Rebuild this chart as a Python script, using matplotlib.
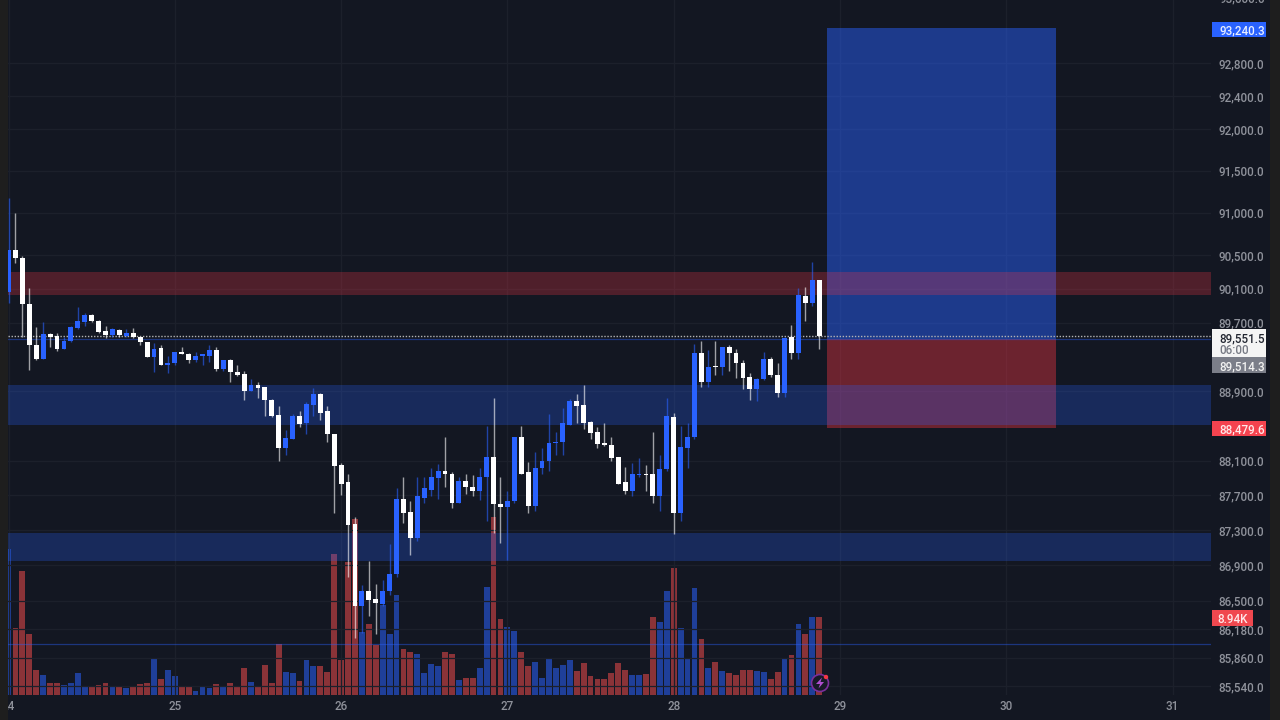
import numpy as np
import matplotlib
matplotlib.use("Agg")
import matplotlib.pyplot as plt
from matplotlib.patches import Rectangle, Circle, Polygon

# Hourly candles, x position in days of the month = 24 + index / 24
highs = [91175,91000,90490,90110,89655,89715,89585,89585,89540,89665,89890,89820,89805,89735,89665,89645,89630,89630,89645,89540,
         89480,89470,89445,89315,89365,89420,89350,89365,89340,89445,89420,89270,89280,89210,89140,89045,89010,88955,88815,88725,
         88450,88635,88670,88775,88940,88885,88725,88405,88070,87950,87450,86675,86945,86695,86740,87140,87790,87915,87630,87905,
         87915,88010,88060,88370,87965,87915,87940,87930,88010,88495,88825,87915,87755,88370,88495,88080,88195,88240,88635,88425,
         88705,88815,88870,88975,88555,88485,88530,88370,88140,88020,88070,88125,88045,88425,88160,88825,88655,88495,88530,89455,
         89490,89385,89490,89420,89445,89400,89260,89115,89060,89365,89305,89235,89540,89680,90110,90125,90420,90205]
body_tops = [90560,90560,90465,89925,89445,89575,89575,89550,89490,89655,89725,89795,89795,89725,89610,89630,89620,89585,89585,89540,
         89480,89400,89410,89235,89365,89365,89340,89315,89330,89385,89385,89260,89270,89130,89105,88975,88975,88955,88800,88625,
         88360,88610,88610,88750,88870,88870,88670,88405,88045,87850,87370,86605,86605,86515,86615,86800,87655,87655,87505,87690,
         87780,87905,87975,87975,87950,87860,87860,87800,87915,88140,88140,87600,87630,88370,88370,87965,88010,88090,88300,88310,
         88530,88785,88785,88740,88540,88425,88300,88275,88140,87850,87950,87950,87950,87940,88000,88610,88600,88255,88370,89350,
         89350,89185,89200,89420,89420,89350,89235,89070,89045,89280,89280,89095,89525,89540,90030,90020,90205,90205]
body_bots = [90065,90465,89925,89445,89280,89280,89540,89400,89400,89490,89645,89715,89725,89595,89560,89560,89560,89550,89540,89480,
         89305,89305,89210,89210,89235,89340,89270,89270,89315,89315,89165,89165,89130,89095,88905,88905,88940,88800,88610,88240,
         88240,88345,88520,88530,88740,88655,88405,88035,87835,87360,86445,86445,86505,86470,86460,86605,86800,87495,87210,87210,
         87675,87765,87895,87940,87610,87610,87800,87755,87755,87915,87600,87565,87565,87630,87950,87575,87575,88010,88090,88300,
         88310,88505,88725,88530,88415,88290,88275,88125,87835,87745,87745,87930,87930,87690,87690,88000,87495,87495,88240,88370,
         89010,89010,89185,89185,89350,89235,89060,88930,88930,89045,89095,88885,88885,89350,89350,89935,89935,89551.5]
lows = [89935,90405,89540,89150,89260,89280,89420,89375,89400,89480,89630,89665,89715,89585,89525,89540,89540,89540,89525,89445,
         89295,89130,89210,89115,89210,89330,89225,89245,89210,89245,89140,89140,89010,89080,88795,88905,88825,88610,88600,88090,
         88160,88345,88485,88405,88610,88565,88310,87495,87700,86765,86085,86140,86330,86130,86445,86560,86765,87380,87015,87175,
         87610,87690,87655,87800,87550,87610,87720,87690,87645,87405,87265,87155,86960,87610,87940,87495,87520,87950,87975,88160,
         88160,88505,88530,88460,88345,88240,88265,88090,87825,87720,87690,87915,87745,87610,87520,87985,87255,87405,88010,88345,
         88955,88955,89095,89095,89140,89060,88930,88800,88785,89035,89070,88835,88835,89280,89280,89725,89900,89400]
is_up = [1,0,0,0,0,1,0,0,1,1,1,1,0,0,0,1,0,1,0,0,
         0,1,0,1,1,0,0,1,1,1,0,1,0,0,0,1,0,0,0,0,
         1,1,0,1,1,0,0,0,0,0,0,1,0,0,1,1,1,0,0,1,
         1,1,1,0,0,1,0,0,1,1,0,0,1,1,0,0,1,1,1,1,
         1,1,0,0,0,0,0,0,0,0,1,1,0,0,1,1,0,1,1,1,
         0,1,0,1,0,0,0,0,1,1,0,0,1,0,1,0,1,0]
volumes_k = [16.95,7.74,14.36,7.0,2.83,2.21,1.28,1.35,1.16,1.35,2.52,1.04,0.89,1.16,1.28,1.04,1.04,0.70,0.85,1.24,
         1.35,4.14,1.78,2.83,2.09,1.04,0.85,0.43,0.85,0.74,1.24,0.93,1.35,0.85,3.13,1.47,1.04,3.44,1.35,5.92,
         2.63,2.52,1.59,3.95,3.33,3.33,2.63,16.29,3.95,15.4,20.4,7.2,8.13,5.8,10.37,6.97,11.53,5.34,4.95,4.68,
         2.52,3.52,3.33,4.88,4.76,1.74,1.86,1.97,3.02,12.5,20.6,8.82,7.78,7.39,4.88,3.33,3.83,1.86,4.14,3.13,
         3.41,3.95,2.71,3.64,2.09,1.78,1.78,2.52,3.64,2.83,2.28,2.28,2.4,8.94,8.44,12.07,14.63,7.7,4.14,12.31,
         6.46,3.13,3.75,2.71,2.52,2.21,2.9,2.9,2.71,2.59,1.78,2.59,4.14,4.61,8.13,6.97,8.94,8.94]

price_ticks = [92800,92400,92000,91500,91000,90500,90100,89700,88900,88100,87700,87300,86900,86500,86180,85860,85540]
day_ticks = [24,25,26,27,28,29,30,31]
zones_red = [(90030,90300)]
zones_blue = [(88510,88975),(86945,87265)]
entry_price = 89514.3
target_price = 93225
stop_price = 88479.6
last_price = 89551.5
level_line = 86010
pos_days = (28.922,30.30)

W, H = 1280, 720
BG = '#131722'
EDGE = '#1e1e1e'
BLUE = '#2962ff'
RED = '#f23645'
TXT = '#8f929b'
FS = 8.4
plt.rcParams['font.family'] = ['Roboto','DejaVu Sans']
plt.rcParams['font.weight'] = 'medium'

fig = plt.figure(figsize=(W/100,H/100),dpi=100,facecolor=BG)
def fx(p): return p/W
def fy(p): return 1-p/H
L,R,T,B = 8,1211,0,694.5
rect = [fx(L),fy(B),fx(R-L),(B-T)/H]
xlim = (24+(L-8.5)/166.3, 24+(R-8.5)/166.3)
ylim = (92800*np.exp(-(B-63)/7649), 92800*np.exp(63/7649))
vol_top = (B-T)*0.1161

axv = fig.add_axes(rect,zorder=1,facecolor=BG)
ax = fig.add_axes(rect,zorder=2,facecolor='none')
x = 24+np.arange(len(highs))/24

for a in (ax,axv):
    a.set_xlim(xlim)
    for s in a.spines.values(): s.set_visible(False)
axv.set_ylim(0,vol_top)
axv.set_yticks([])
axv.tick_params(length=0,labelbottom=False)
axv.set_xticks([])

ax.set_yscale('log')
ax.set_ylim(ylim)
ax.yaxis.tick_right()
ax.set_yticks(price_ticks)
ax.set_yticklabels([f'{p:,.1f}' for p in price_ticks],va='center_baseline')
ax.minorticks_off()
ax.tick_params(axis='y',length=0,pad=5.2,labelsize=FS,labelcolor=TXT)
ax.set_xticks(day_ticks)
ax.set_xticklabels([str(d) for d in day_ticks])
ax.tick_params(axis='x',length=0,pad=4,labelsize=FS,labelcolor=TXT)
ax.grid(True,color='#1c202b',lw=0.9)
ax.set_axisbelow(True)

# volume
vc = ['#1f3f99' if u else '#8a3338' for u in is_up]
axv.bar(x,volumes_k,width=0.84/24,color=vc,lw=0)

# position tool
xa = (pos_days[0]-xlim[0])/(xlim[1]-xlim[0])
xb = (pos_days[1]-xlim[0])/(xlim[1]-xlim[0])
ax.axhspan(entry_price,target_price,xmin=xa,xmax=xb,color=BLUE,alpha=0.48,lw=0,zorder=1.5)
ax.axhspan(stop_price,entry_price,xmin=xa,xmax=xb,color=RED,alpha=0.4,lw=0,zorder=1.5)

# zones
for lo,hi in zones_red:
    ax.axhspan(lo,hi,color=RED,alpha=0.27,lw=0,zorder=2)
for lo,hi in zones_blue:
    ax.axhspan(lo,hi,color=BLUE,alpha=0.26,lw=0,zorder=2)
ax.axhline(level_line,color=BLUE,alpha=0.42,lw=0.9,zorder=2.5)
ax.axhline(entry_price,color=BLUE,alpha=0.42,lw=0.9,zorder=2.5)
ax.axhline(last_price,color='#b4b4b4',lw=1,ls=(0,(1,1.2)),zorder=3)

# candles
cc = ['#2962ff' if u else '#ffffff' for u in is_up]
ax.vlines(x,lows,highs,colors=cc,lw=1.0,alpha=0.6,zorder=4)
tops = np.array(body_tops); bots = np.array(body_bots)
ax.bar(x,tops-bots,bottom=bots,width=0.7/24,color=cc,lw=0,zorder=5)

# right side labels
def box(x0,x1,y0,y1,col,zorder=10):
    fig.add_artist(Rectangle((fx(x0),fy(y1)),fx(x1-x0),(y1-y0)/H,transform=fig.transFigure,color=col,lw=0,zorder=zorder))
def lab(xp,yp,s,col,size=FS,ha='left'):
    fig.text(fx(xp),fy(yp),s,color=col,fontsize=size,ha=ha,va='center_baseline',zorder=11)

lab(1219,-2.5,'93,600.0',TXT)
box(1212,1266,22,37,BLUE); lab(1219,29.5,'93,240.3','#e8eeff')
box(1212,1266,329,357,'#f4f4f4'); lab(1219,337,f'{last_price:,.1f}','#222631'); lab(1219,349.5,'06:00','#777a84')
box(1212,1266,357,373,'#7b7e89'); lab(1219,365,f'{entry_price:,.1f}','#f2f2f2')
box(1212,1266,421,436,'#f5434f'); lab(1219,428.5,f'{stop_price:,.1f}','#ffe9ea')
box(1212,1253,610,626,'#f0484f'); lab(1232.5,618,'8.94K','#ffe9ea',ha='center')

# side strips
box(0,8,0,720,EDGE,zorder=9)
box(1270,1280,0,720,EDGE,zorder=9)

# lightning badge
fig.add_artist(Circle((820,37),8.5,transform=None,fc='#171a27',ec='#7b2f9b',lw=1.2,zorder=12))
fig.add_artist(Polygon(np.array([[822,42.5],[816,36],[820,36],[818.5,31.5],[824,38],[820.5,38]]),closed=True,transform=None,fc='#b04fd0',lw=0,zorder=13))
fig.add_artist(Circle((826,43),2.2,transform=None,fc='#f23645',lw=0,zorder=14))

fig.savefig('out.png',dpi=100,facecolor=BG)
